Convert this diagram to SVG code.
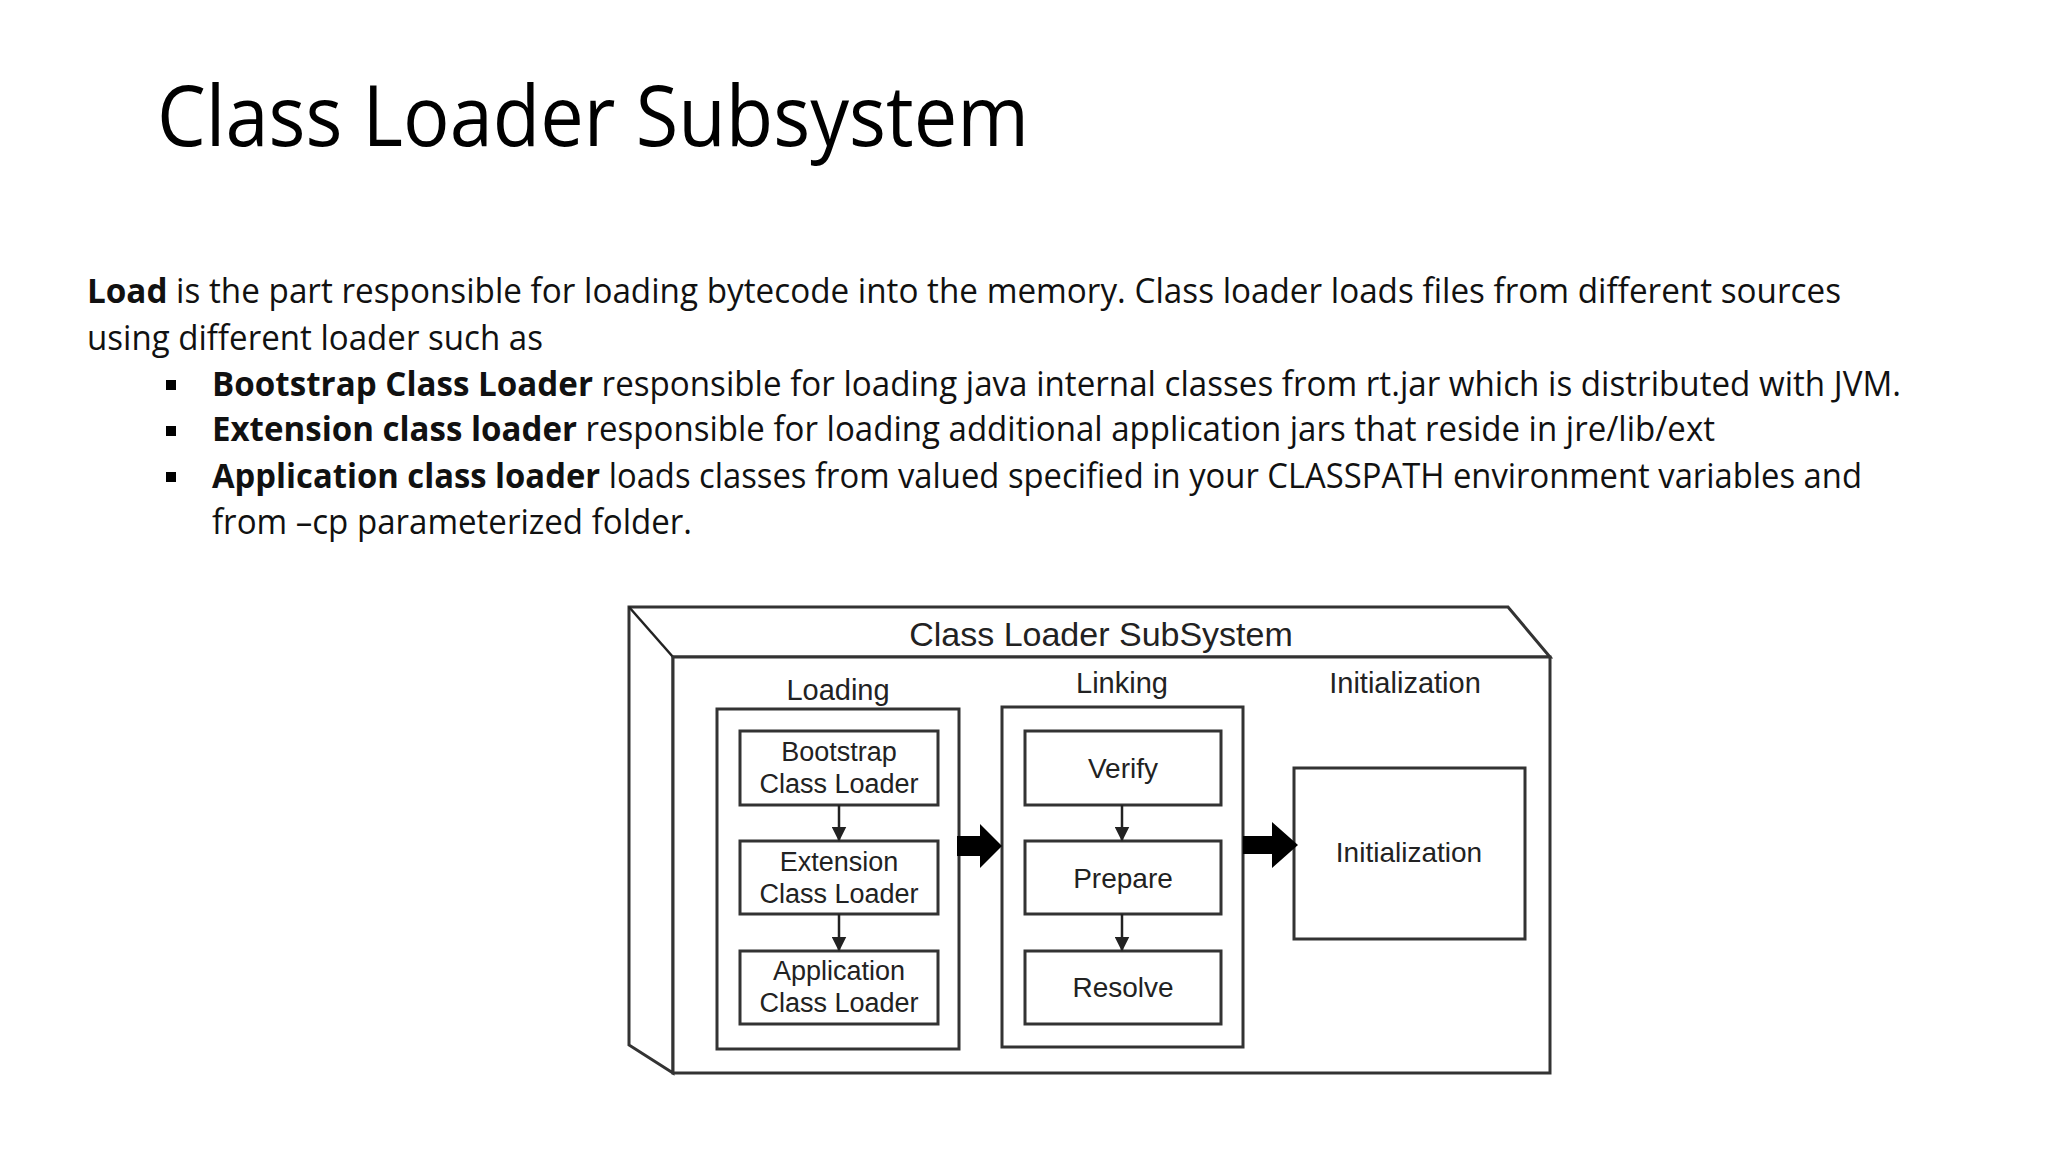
<svg xmlns="http://www.w3.org/2000/svg" width="2048" height="1152" viewBox="0 0 2048 1152">
<style>
.b{font-family:"Open Sans","Liberation Sans",sans-serif;font-size:34px;fill:#111}
.d{font-family:"Liberation Sans",Arial,sans-serif;fill:#222;text-anchor:middle}
.bx{fill:#fff;stroke:#333;stroke-width:3}
.ln{stroke:#222;stroke-width:2.5;fill:none}
</style>
<defs>
<marker id="ah" viewBox="0 0 10 10" refX="9" refY="5" markerWidth="6" markerHeight="6" orient="auto"><path d="M0,0L10,5L0,10z" fill="#222"/></marker>
</defs>
<rect width="2048" height="1152" fill="#fff"/>
<text x="157" y="146" font-family="'Open Sans','Liberation Sans',sans-serif" font-size="84" fill="#000" textLength="872" lengthAdjust="spacingAndGlyphs">Class Loader Subsystem</text>
<text class="b" x="87" y="303" textLength="1754" lengthAdjust="spacingAndGlyphs"><tspan font-weight="bold">Load</tspan> is the part responsible for loading bytecode into the memory. Class loader loads files from different sources</text>
<text class="b" x="87" y="350" textLength="456" lengthAdjust="spacingAndGlyphs">using different loader such as</text>
<g fill="#000"><rect x="166" y="380" width="10" height="10"/><rect x="166" y="426" width="10" height="10"/><rect x="166" y="472" width="10" height="10"/></g>
<text class="b" x="212" y="396" textLength="1689" lengthAdjust="spacingAndGlyphs"><tspan font-weight="bold">Bootstrap Class Loader</tspan> responsible for loading java internal classes from rt.jar which is distributed with JVM.</text>
<text class="b" x="212" y="441" textLength="1503" lengthAdjust="spacingAndGlyphs"><tspan font-weight="bold">Extension class loader</tspan> responsible for loading additional application jars that reside in jre/lib/ext</text>
<text class="b" x="212" y="488" textLength="1650" lengthAdjust="spacingAndGlyphs"><tspan font-weight="bold">Application class loader</tspan> loads classes from valued specified in your CLASSPATH environment variables and</text>
<text class="b" x="212" y="534" textLength="480" lengthAdjust="spacingAndGlyphs">from –cp parameterized folder.</text>
<g id="frame">
<path class="bx" d="M629,607L1508,607L1550,657L673,657L673,1073L629,1045Z"/>
<line class="ln" x1="673" y1="657" x2="629" y2="607"/>
<rect class="bx" x="673" y="657" width="877" height="416"/>
<text class="d" x="1101" y="646" font-size="34">Class Loader SubSystem</text>
<text class="d" x="838" y="700" font-size="29">Loading</text>
<text class="d" x="1122" y="693" font-size="29">Linking</text>
<text class="d" x="1405" y="693" font-size="29">Initialization</text>
</g>
<g id="loading"><rect class="bx" x="717" y="709" width="242" height="340"/></g>
<g id="linking"><rect class="bx" x="1002" y="707" width="241" height="340"/></g>
<g id="bootstrap"><rect class="bx" x="740" y="731" width="198" height="74"/><text class="d" font-size="27" x="839" y="761">Bootstrap</text><text class="d" font-size="27" x="839" y="793">Class Loader</text></g>
<g id="extension"><rect class="bx" x="740" y="841" width="198" height="73"/><text class="d" font-size="27" x="839" y="871">Extension</text><text class="d" font-size="27" x="839" y="903">Class Loader</text></g>
<g id="application"><rect class="bx" x="740" y="951" width="198" height="73"/><text class="d" font-size="27" x="839" y="980">Application</text><text class="d" font-size="27" x="839" y="1012">Class Loader</text></g>
<g id="verify"><rect class="bx" x="1025" y="731" width="196" height="74"/><text class="d" font-size="28" x="1123" y="778">Verify</text></g>
<g id="prepare"><rect class="bx" x="1025" y="841" width="196" height="73"/><text class="d" font-size="28" x="1123" y="888">Prepare</text></g>
<g id="resolve"><rect class="bx" x="1025" y="951" width="196" height="73"/><text class="d" font-size="28" x="1123" y="997">Resolve</text></g>
<g id="init"><rect class="bx" x="1294" y="768" width="231" height="171"/><text class="d" font-size="28" x="1409" y="862">Initialization</text></g>
<g id="connectors">
<line class="ln" x1="839" y1="805" x2="839" y2="840" marker-end="url(#ah)"/>
<line class="ln" x1="839" y1="914" x2="839" y2="950" marker-end="url(#ah)"/>
<line class="ln" x1="1122" y1="805" x2="1122" y2="840" marker-end="url(#ah)"/>
<line class="ln" x1="1122" y1="914" x2="1122" y2="950" marker-end="url(#ah)"/>
<path d="M957,836H980V824L1002,846L980,868V856H957Z" fill="#000"/>
<path d="M1243,836H1272V822L1298,845L1272,868V854H1243Z" fill="#000"/>
</g>
</svg>
